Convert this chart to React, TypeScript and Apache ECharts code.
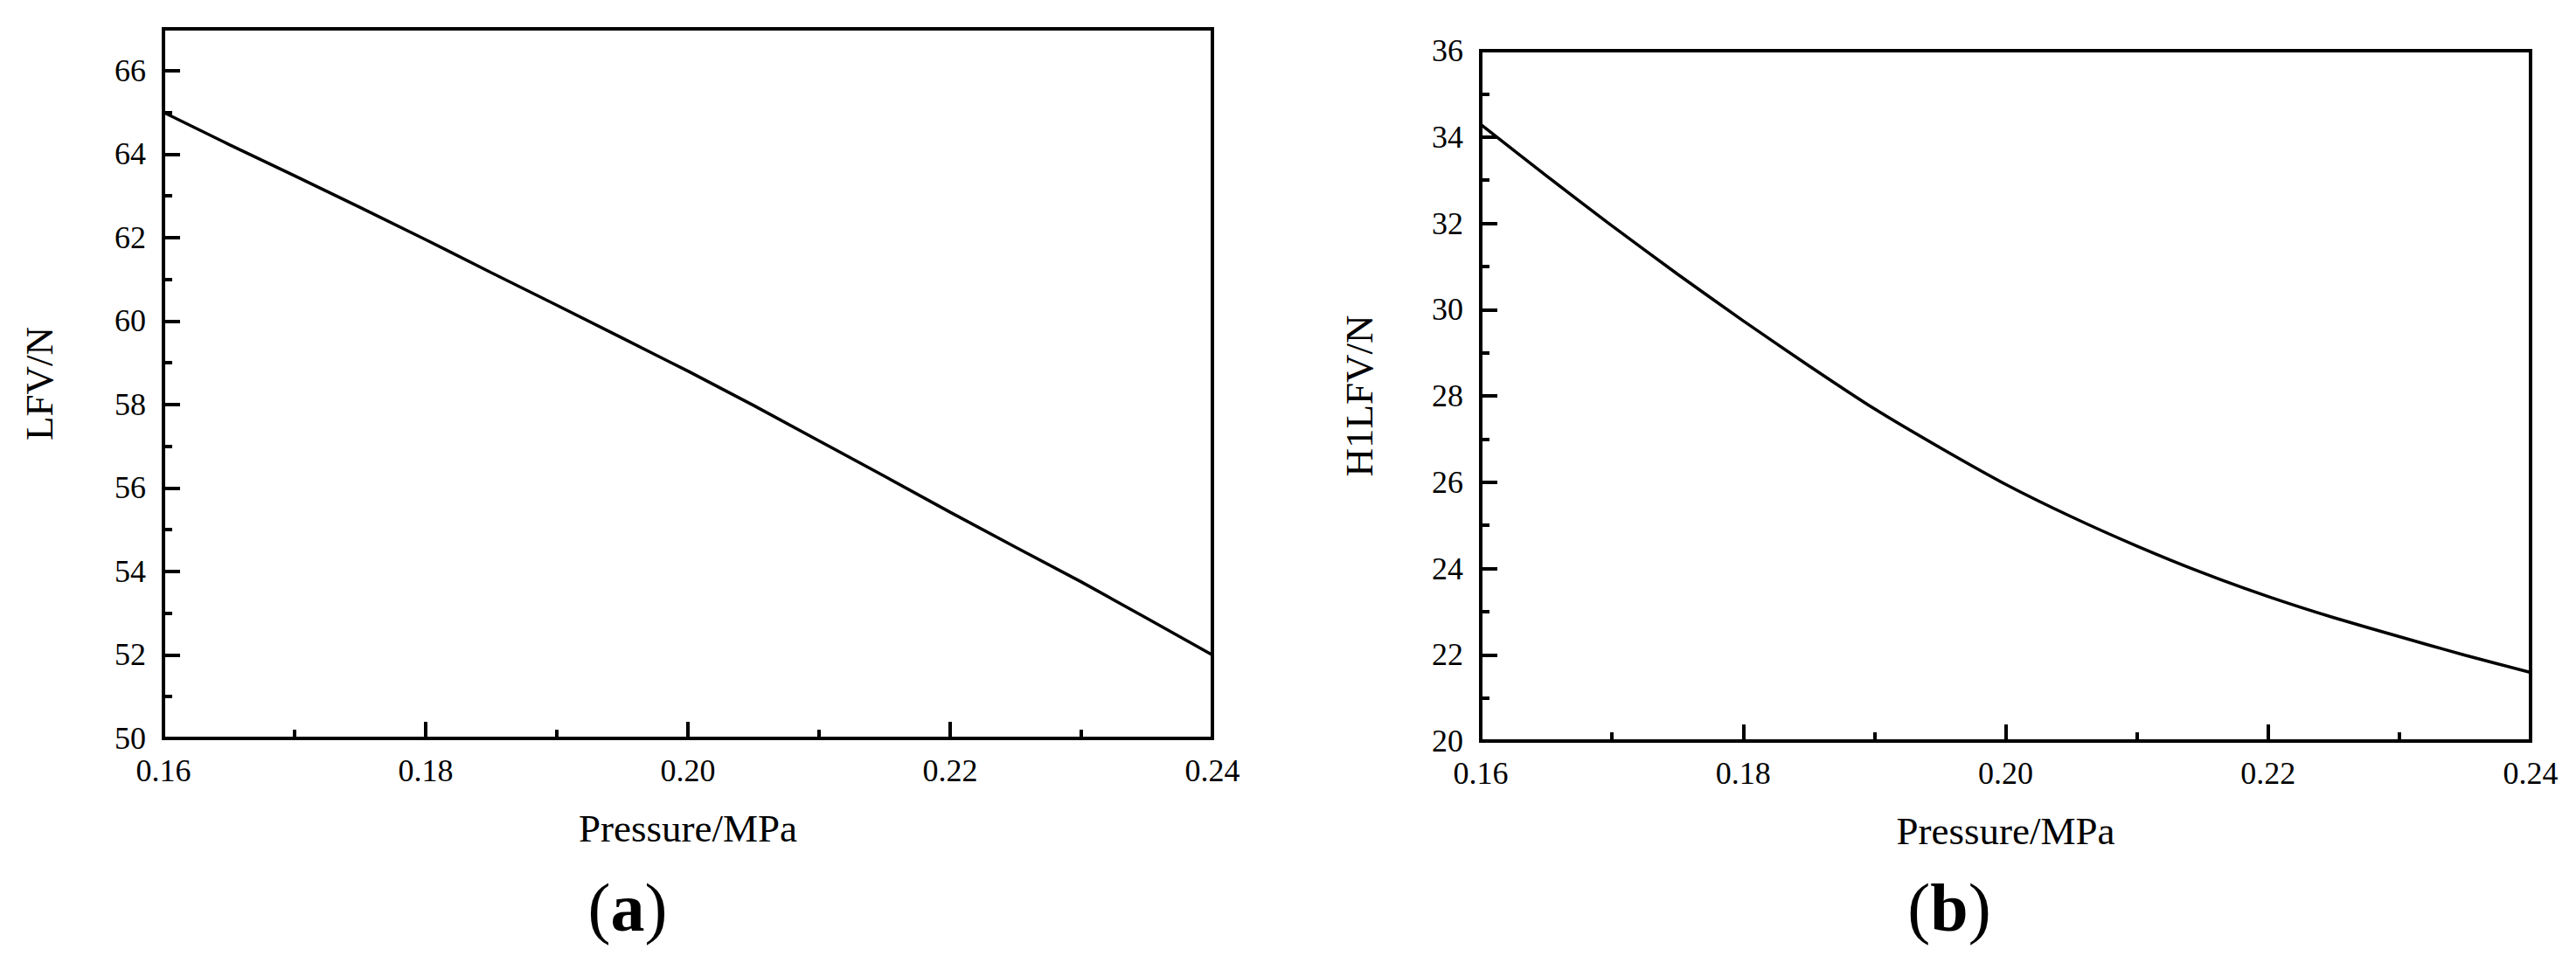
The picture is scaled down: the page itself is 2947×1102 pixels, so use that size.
import React, { useEffect, useRef } from "react";
import * as echarts from "echarts";

const pressure = [0.16, 0.165, 0.17, 0.175, 0.18, 0.185, 0.19, 0.195, 0.2, 0.205, 0.21, 0.215, 0.22, 0.225, 0.23, 0.235, 0.24];
const lfv = [65.0, 64.23, 63.48, 62.72, 61.95, 61.16, 60.38, 59.59, 58.8, 57.98, 57.13, 56.28, 55.42, 54.58, 53.75, 52.88, 52.0];
const h1lfv = [34.29, 33.1, 31.94, 30.82, 29.74, 28.7, 27.7, 26.8, 25.95, 25.2, 24.52, 23.9, 23.35, 22.86, 22.42, 21.99, 21.59];

const xTitle = "Pressure/MPa";
const yTitleA = "LFV/N";
const yTitleB = "H1LFV/N";
const panelA = "a";
const panelB = "b";

const FONT = "'Liberation Serif', 'Times New Roman', serif";
const BLACK = "#000";

function xAxisFor(gridIndex: number) {
  return {
    gridIndex,
    type: "value",
    min: 0.16,
    max: 0.24,
    interval: 0.02,
    axisLine: { show: true, onZero: false, lineStyle: { color: BLACK, width: 4 } },
    axisTick: { show: true, inside: true, length: 19, lineStyle: { color: BLACK, width: 4 } },
    minorTick: { show: true, splitNumber: 2, length: 10, lineStyle: { color: BLACK, width: 4 } },
    splitLine: { show: false },
    minorSplitLine: { show: false },
    axisLabel: {
      color: BLACK,
      fontFamily: FONT,
      fontSize: 36,
      margin: 19,
      formatter: (v: number) => v.toFixed(2),
    },
    name: xTitle,
    nameLocation: "middle",
    nameGap: 80,
    nameTextStyle: { color: BLACK, fontFamily: FONT, fontSize: 45 },
  };
}

export default function App() {
  const ref = useRef<HTMLDivElement>(null);
  useEffect(() => {
    if (!ref.current) return;
    const chart = echarts.init(ref.current, null, { renderer: "svg" });
    const gridA = { left: 187, top: 33, width: 1200, height: 812 };
    const gridB = { left: 1694, top: 58, width: 1201, height: 790 };
    const gridStyle = { show: true, borderColor: BLACK, borderWidth: 4, backgroundColor: "transparent" };
    chart.setOption({
      animation: false,
      backgroundColor: "#fff",
      grid: [
        { ...gridA, ...gridStyle },
        { ...gridB, ...gridStyle },
      ],
      xAxis: [xAxisFor(0), xAxisFor(1)],
      yAxis: [
        {
          gridIndex: 0,
          type: "value",
          position: "left",
          min: 50,
          max: 67,
          interval: 1,
          axisLine: { show: true, onZero: false, lineStyle: { color: BLACK, width: 4 } },
          axisTick: { show: true, inside: true, length: 10, lineStyle: { color: BLACK, width: 4 } },
          splitLine: { show: false },
          axisLabel: {
            color: BLACK,
            fontFamily: FONT,
            fontSize: 36,
            margin: 20,
            showMaxLabel: false,
            formatter: (v: number) => (v % 2 === 0 && v < 67 ? String(v) : ""),
          },
          name: yTitleA,
          nameLocation: "middle",
          nameRotate: 90,
          nameGap: 120,
          nameTextStyle: { color: BLACK, fontFamily: FONT, fontSize: 45 },
        },
        {
          gridIndex: 0,
          type: "value",
          position: "right",
          offset: -1200,
          min: 50,
          max: 67,
          interval: 2,
          axisLine: { show: false },
          axisTick: { show: true, inside: false, length: 19, lineStyle: { color: BLACK, width: 4 } },
          axisLabel: { show: false },
          splitLine: { show: false },
        },
        {
          gridIndex: 1,
          type: "value",
          position: "left",
          min: 20,
          max: 36,
          interval: 2,
          axisLine: { show: true, onZero: false, lineStyle: { color: BLACK, width: 4 } },
          axisTick: { show: true, inside: true, length: 19, lineStyle: { color: BLACK, width: 4 } },
          minorTick: { show: true, splitNumber: 2, length: 10, lineStyle: { color: BLACK, width: 4 } },
          splitLine: { show: false },
          minorSplitLine: { show: false },
          axisLabel: { color: BLACK, fontFamily: FONT, fontSize: 36, margin: 20 },
          name: yTitleB,
          nameLocation: "middle",
          nameRotate: 90,
          nameGap: 117,
          nameTextStyle: { color: BLACK, fontFamily: FONT, fontSize: 45 },
        },
      ],
      series: [
        {
          type: "line",
          xAxisIndex: 0,
          yAxisIndex: 0,
          data: pressure.map((p, i) => [p, lfv[i]]),
          showSymbol: false,
          symbol: "none",
          lineStyle: { color: BLACK, width: 3.5 },
          clip: true,
        },
        {
          type: "line",
          xAxisIndex: 1,
          yAxisIndex: 2,
          data: pressure.map((p, i) => [p, h1lfv[i]]),
          showSymbol: false,
          symbol: "none",
          smooth: 0.2,
          lineStyle: { color: BLACK, width: 3.5 },
          clip: true,
        },
      ],
      graphic: [
        {
          type: "text",
          x: 718,
          y: 1038,
          style: {
            text: `{p|(}{b|${panelA}}{p|)}`,
            align: "center",
            verticalAlign: "middle",
            rich: {
              p: { fontFamily: FONT, fontSize: 78, fill: BLACK, fontWeight: "normal" },
              b: { fontFamily: FONT, fontSize: 78, fill: BLACK, fontWeight: "bold" },
            },
          },
        },
        {
          type: "text",
          x: 2230,
          y: 1038,
          style: {
            text: `{p|(}{b|${panelB}}{p|)}`,
            align: "center",
            verticalAlign: "middle",
            rich: {
              p: { fontFamily: FONT, fontSize: 78, fill: BLACK, fontWeight: "normal" },
              b: { fontFamily: FONT, fontSize: 78, fill: BLACK, fontWeight: "bold" },
            },
          },
        },
      ],
    });
    return () => chart.dispose();
  }, []);
  return (
    <div
      ref={ref}
      style={{ position: "absolute", left: 0, top: 0, width: 2947, height: 1102 }}
    />
  );
}
